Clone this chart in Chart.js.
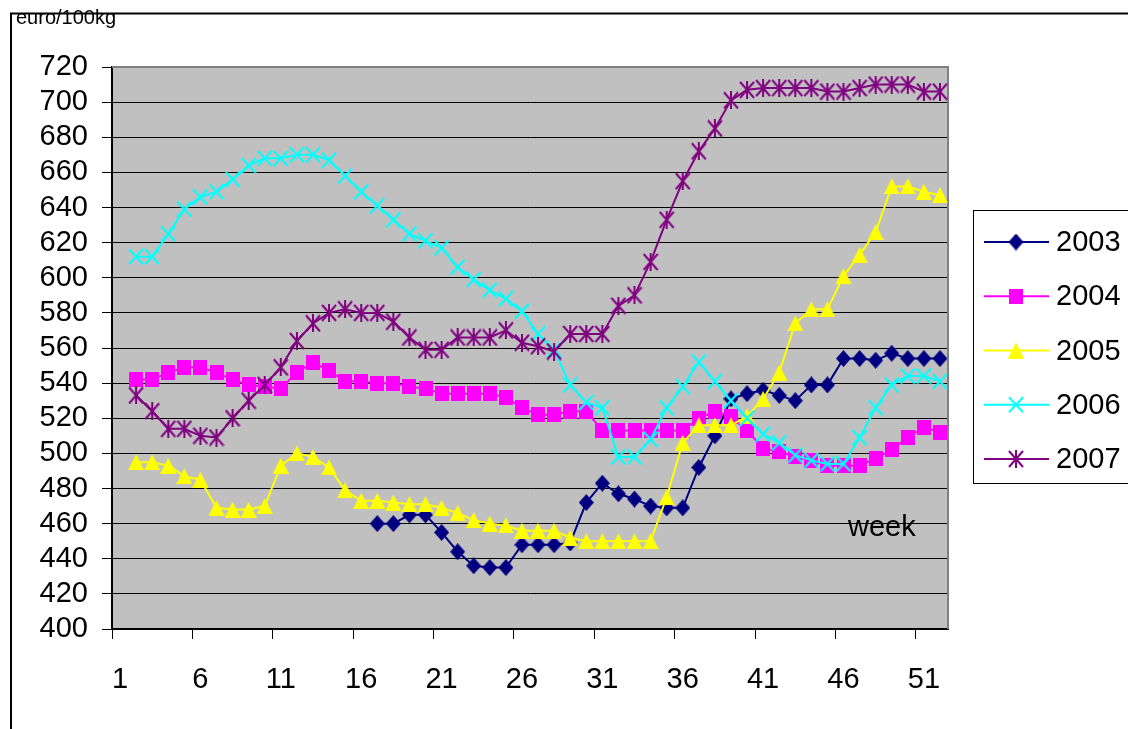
<!DOCTYPE html>
<html>
<head>
<meta charset="utf-8">
<script src="https://cdn.jsdelivr.net/npm/chart.js@4.4.0/dist/chart.umd.min.js"></script>
<style>
html, body { margin: 0; padding: 0; background: #fff; overflow: hidden; }
#wrap { width: 1128px; height: 729px; }
</style>
</head>
<body>
<div id="wrap"><canvas id="chart" width="1128" height="729"></canvas></div>
<script>
const weeks = ['1','2','3','4','5','6','7','8','9','10','11','12','13','14','15','16','17','18','19','20',
  '21','22','23','24','25','26','27','28','29','30','31','32','33','34','35','36','37','38','39','40',
  '41','42','43','44','45','46','47','48','49','50','51','52'];

const yTicks = { min: 400, max: 720, step: 20 };

const years = ['2003', '2004', '2005', '2006', '2007'];

// prices per week, euro/100kg (week 1 missing)
const price2003 = [null,null,null,null,null,null,null,null,null,null,null,null,null,null,null,null,
  460,460,465,465,455,444,436,435,435,448,448,448,449,472,483,477,474,470,469,469,
  492,510,531,534,536,533,530,539,539,554,554,553,557,554,554,554];
const price2004 = [null,542,542,546,549,549,546,542,539,538,537,546,552,547,541,541,540,540,538,537,
  534,534,534,534,532,526,522,522,524,524,513,513,513,513,513,513,520,524,521,513,
  503,501,498,496,493,493,493,497,502,509,515,512];
const price2005 = [null,495,495,493,487,485,469,468,468,470,493,500,498,492,479,473,473,472,471,471,
  469,466,462,460,459,456,456,456,452,450,450,450,450,450,475,506,516,516,516,521,
  531,546,574,582,582,601,613,626,652,652,649,647];
const price2006 = [null,612,612,625,639,646,649,656,664,668,668,670,670,667,658,649,641,633,625,621,
  617,606,599,593,588,581,568,559,539,529,526,498,498,508,526,538,552,541,530,520,
  511,506,499,496,494,494,509,526,539,544,544,541];
const price2007 = [null,533,524,514,514,510,509,520,530,539,549,564,574,580,582,580,580,575,566,559,
  559,566,566,566,570,563,561,558,568,568,568,584,590,609,633,655,672,685,701,707,
  708,708,708,708,706,706,708,710,710,710,706,706];

const colors = ['#000080', '#FF00FF', '#FFFF00', '#00FFFF', '#800080'];
const FONT = "'Liberation Sans', Arial, sans-serif";

function marker(kind, color, w, h) {
  const c = document.createElement('canvas');
  c.width = w; c.height = h;
  const g = c.getContext('2d');
  g.fillStyle = color;
  g.strokeStyle = color;
  g.lineWidth = 2;
  g.beginPath();
  if (kind === 'diamond') {
    g.moveTo(w / 2, 0); g.lineTo(w, h / 2); g.lineTo(w / 2, h); g.lineTo(0, h / 2);
    g.closePath(); g.fill();
  } else if (kind === 'square') {
    g.fillRect(0, 0, w, h);
  } else if (kind === 'triangle') {
    g.moveTo(w / 2, 0); g.lineTo(w, h); g.lineTo(0, h);
    g.closePath(); g.fill();
  } else {
    g.moveTo(1, 1); g.lineTo(w - 1, h - 1);
    g.moveTo(w - 1, 1); g.lineTo(1, h - 1);
    if (kind === 'star') { g.moveTo(w / 2, 0); g.lineTo(w / 2, h); }
    g.stroke();
  }
  return c;
}

const markers = [
  marker('diamond', colors[0], 15, 17),
  marker('square', colors[1], 14, 15),
  marker('triangle', colors[2], 16, 16),
  marker('cross', colors[3], 16, 17),
  marker('star', colors[4], 16, 18)
];

const series = [price2003, price2004, price2005, price2006, price2007];

const datasets = series.map((d, i) => ({
  label: years[i],
  data: d,
  borderColor: colors[i],
  backgroundColor: colors[i],
  borderWidth: 2,
  pointStyle: markers[i],
  pointRadius: 8,
  tension: 0,
  fill: false,
  order: 5 - i
}));

const decor = {
  id: 'decor',
  beforeDraw(chart) {
    const { ctx, chartArea: a } = chart;
    ctx.save();
    ctx.fillStyle = '#fff';
    ctx.fillRect(0, 0, chart.width, chart.height);
    ctx.fillStyle = '#C0C0C0';
    ctx.fillRect(a.left, a.top, a.right - a.left, a.bottom - a.top);
    ctx.restore();
  },
  beforeDatasetsDraw(chart) {
    const { ctx, chartArea: a } = chart;
    ctx.save();
    ctx.strokeStyle = '#808080';
    ctx.lineWidth = 2;
    ctx.beginPath();
    ctx.moveTo(a.left, a.top);
    ctx.lineTo(a.right, a.top);
    ctx.lineTo(a.right, a.bottom);
    ctx.stroke();
    ctx.restore();
  },
  afterDraw(chart) {
    const { ctx, chartArea: a } = chart;
    ctx.save();
    // outer frame
    ctx.strokeStyle = '#000';
    ctx.lineWidth = 2;
    ctx.beginPath();
    ctx.moveTo(11, chart.height);
    ctx.lineTo(11, 13.5);
    ctx.lineTo(chart.width, 13.5);
    ctx.stroke();

    ctx.fillStyle = '#000';
    ctx.font = '20px ' + FONT;
    ctx.textBaseline = 'alphabetic';
    ctx.textAlign = 'left';
    ctx.fillText('euro/100kg', 16, 24);

    ctx.font = '29px ' + FONT;
    ctx.fillText('week', a.right - 100, a.bottom - 93);

    // legend
    ctx.lineWidth = 1;
    ctx.strokeRect(973.5, 210.5, 200, 273);
    ctx.textBaseline = 'middle';
    years.forEach((y, i) => {
      const cy = 242 + i * 54.25;
      ctx.strokeStyle = colors[i];
      ctx.lineWidth = 2;
      ctx.beginPath();
      ctx.moveTo(984, cy);
      ctx.lineTo(1049, cy);
      ctx.stroke();
      const m = markers[i];
      ctx.drawImage(m, 1016 - m.width / 2, cy - m.height / 2);
      ctx.fillStyle = '#000';
      ctx.fillText(y, 1056, cy + 1);
    });
    ctx.restore();
  }
};

Chart.defaults.font.family = FONT;
Chart.defaults.font.size = 29;
Chart.defaults.color = '#000';

new Chart(document.getElementById('chart'), {
  type: 'line',
  data: { labels: weeks, datasets: datasets },
  options: {
    responsive: false,
    animation: false,
    devicePixelRatio: 1,
    layout: { padding: { top: 67, right: 180, bottom: 0, left: 0 } },
    plugins: { legend: { display: false }, tooltip: { enabled: false } },
    scales: {
      x: {
        offset: true,
        grid: {
          offset: true,
          drawOnChartArea: false,
          drawTicks: true,
          tickLength: 10,
          tickWidth: 1,
          tickColor: c => (c.index % 5 === 0 ? '#000' : 'rgba(0,0,0,0)')
        },
        border: { display: true, color: '#000', width: 2 },
        ticks: {
          autoSkip: false,
          maxRotation: 0,
          minRotation: 0,
          padding: 24,
          callback: (v, i) => (i % 5 === 0 ? weeks[i] : '')
        },
        afterFit(s) { s.height = 100; }
      },
      y: {
        min: yTicks.min,
        max: yTicks.max,
        ticks: { stepSize: yTicks.step, padding: 14, autoSkip: false },
        grid: { color: '#000', lineWidth: 1, tickLength: 10, drawTicks: true },
        border: { display: true, color: '#000', width: 2 },
        afterFit(s) { s.width = 112; }
      }
    }
  },
  plugins: [decor]
});
</script>
</body>
</html>
